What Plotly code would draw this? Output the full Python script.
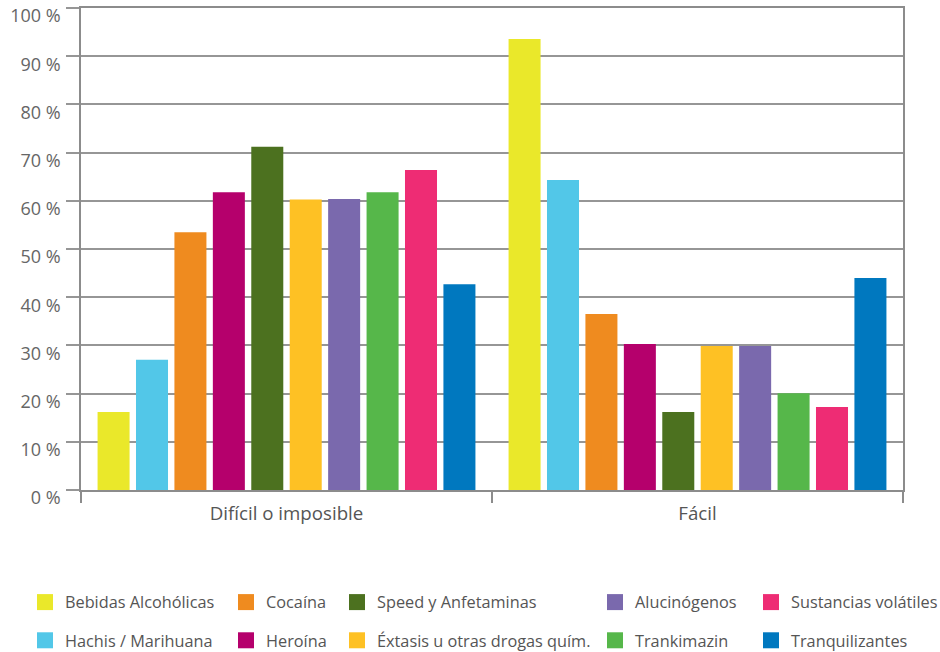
import plotly.graph_objects as go

categories = ["Difícil o imposible", "Fácil"]
series_names = ["Bebidas Alcohólicas", "Hachis / Marihuana", "Cocaína", "Heroína",
                "Speed y Anfetaminas", "Éxtasis u otras drogas quím.", "Alucinógenos",
                "Trankimazin", "Sustancias volátiles", "Tranquilizantes"]
bebidas = [16.2, 93.6]
hachis = [27.0, 64.3]
cocaina = [53.5, 36.5]
heroina = [61.8, 30.3]
speed = [71.2, 16.2]
extasis = [60.3, 29.9]
alucinogenos = [60.4, 29.9]
trankimazin = [61.8, 20.1]
sustancias = [66.4, 17.2]
tranquilizantes = [42.7, 44.0]
y_ticks = [0, 10, 20, 30, 40, 50, 60, 70, 80, 90, 100]
y_tick_labels = [f"{v} %" for v in y_ticks]

values = [bebidas, hachis, cocaina, heroina, speed, extasis, alucinogenos,
          trankimazin, sustancias, tranquilizantes]
colors = ["#EAE82A", "#52C7E8", "#EF8B1F", "#B5006C", "#4C711F",
          "#FEC124", "#7A69AD", "#56B74A", "#EE2C74", "#0078BF"]
legend_ids = ["legend", "legend", "legend2", "legend2", "legend3",
              "legend3", "legend4", "legend4", "legend5", "legend5"]

FONT = "Open Sans"
fig = go.Figure()
for i, (name, vals) in enumerate(zip(series_names, values)):
    fig.add_trace(go.Bar(
        x=categories, y=vals, name=name, marker_color=colors[i],
        marker_line_width=0, legendgroup=name, showlegend=False,
        hoverinfo="skip"))
# legend swatches (larger square keys)
for i, name in enumerate(series_names):
    fig.add_trace(go.Scatter(
        x=[None], y=[None], mode="markers", name=name,
        marker=dict(symbol="square", size=19, color=colors[i]),
        legend=legend_ids[i], legendgroup=name, showlegend=True,
        hoverinfo="skip"))

legend_x = [25, 226, 337, 595, 751]
common_legend = dict(xref="container", yref="container", yanchor="top",
                     xanchor="left",
                     y=1 - 585 / 652, orientation="v", tracegroupgap=14,
                     font=dict(family=FONT, size=16.3, color="#555555"),
                     bgcolor="rgba(0,0,0,0)", itemclick=False,
                     itemdoubleclick=False)
legs = {}
for k, lx in enumerate(legend_x):
    key = "legend" if k == 0 else f"legend{k+1}"
    legs[key] = dict(common_legend, x=lx / 940)

axis_color = "#8c8c8c"
fig.update_layout(
    width=940, height=652,
    margin=dict(l=81, r=37, t=8, b=162, autoexpand=False),
    paper_bgcolor="white", plot_bgcolor="white",
    barmode="group", bargap=0.065, bargroupgap=0.167,
    font=dict(family=FONT, color="#555555"),
    showlegend=True,
    xaxis=dict(
        showline=True, linecolor=axis_color, linewidth=1.5, mirror=True,
        ticks="outside", tickson="boundaries", ticklen=11,
        tickcolor=axis_color, tickwidth=1.5, tickangle=0,
        ticklabelstandoff=6,
        tickfont=dict(family=FONT, size=18.7, color="#555555"),
        showgrid=False, fixedrange=True, automargin=False),
    yaxis=dict(
        range=[0, 100.01], tickvals=y_ticks, ticktext=y_tick_labels,
        showline=True, linecolor=axis_color, linewidth=1.5, mirror=True,
        showgrid=True, gridcolor="#969696", gridwidth=1.6,
        ticks="outside", ticklen=13, tickcolor="#969696", tickwidth=1.6,
        ticklabelshift=8, ticklabelstandoff=2, ticklabeloverflow="allow",
        tickfont=dict(family=FONT, size=18, color="#666666"),
        zeroline=False, fixedrange=True, automargin=False),
    **legs,
)

fig.write_html("out.html", config={"displayModeBar": False},
               post_script="document.body.style.margin='0';")
